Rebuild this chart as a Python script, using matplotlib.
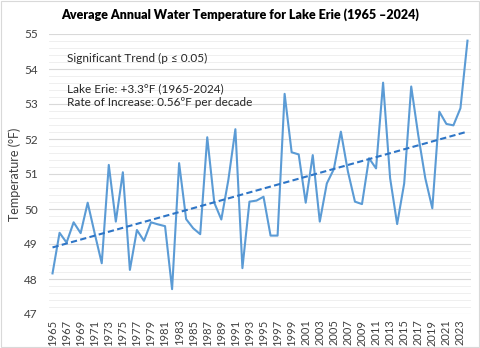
import numpy as np
import matplotlib
matplotlib.use("Agg")
import matplotlib.pyplot as plt
from matplotlib import patches
from matplotlib.ticker import MultipleLocator

plt.rcParams['font.family'] = ['Lato', 'DejaVu Sans']

# annual mean water temperature, Lake Erie (degF)
years = list(range(1965, 2025))
temps = [48.16, 49.32, 49.04, 49.62, 49.31, 50.18, 49.30, 48.45, 51.26, 49.64,
         51.05, 48.26, 49.40, 49.09, 49.62, 49.56, 49.51, 47.71, 51.31, 49.71,
         49.45, 49.28, 52.05, 50.18, 49.70, 50.83, 52.28, 48.31, 50.21, 50.24,
         50.35, 49.24, 49.24, 53.29, 51.62, 51.56, 50.18, 51.54, 49.64, 50.73,
         51.14, 52.21, 51.07, 50.21, 50.14, 51.45, 51.16, 53.61, 50.88, 49.57,
         50.73, 53.50, 52.11, 50.88, 50.02, 52.78, 52.43, 52.39, 52.88, 54.81]
tick_years = years[::2]

line_col = '#5b9bd5'
trend_col = '#2e75c6'

fig = plt.figure(figsize=(4.8, 3.48), dpi=100)
ax = fig.add_axes([49/480, 1-314/348, 422/480, 280/348])

x = np.array(years)
y = np.array(temps)
ax.plot(x, y, color=line_col, lw=1.5, zorder=3)

# linear trend
k, b = np.polyfit(x, y, 1)
ax.plot(x, k*x + b, color=trend_col, lw=1.5, ls=(0, (3, 1.6)), zorder=4)

ax.set_xlim(1964.5, 2024.5)
ax.set_ylim(47, 55)
ax.yaxis.set_major_locator(MultipleLocator(1))
ax.yaxis.set_minor_locator(MultipleLocator(0.2))
ax.set_xticks(tick_years)
ax.set_xticklabels([str(t) for t in tick_years], rotation=90, fontsize=8, color='#404040')
ax.tick_params(axis='y', labelsize=8.5, labelcolor='#404040', pad=8)
ax.tick_params(axis='both', which='both', length=0)
ax.tick_params(axis='x', pad=4)
ax.grid(True, which='major', axis='y', color='#d9d9d9', lw=0.8)
ax.grid(True, which='minor', axis='y', color='#ececec', lw=0.6)
ax.set_axisbelow(True)
for s in ax.spines.values():
    s.set_visible(False)

fig.text(15/480, 1-174/348, 'Temperature (°F)', rotation=90, ha='center', va='center',
         fontsize=9, color='#404040')

fig.text(0.5, 1-15/348, 'Average Annual Water Temperature for Lake Erie (1965 \u20132024)',
         ha='center', va='center', fontsize=9, fontweight='heavy', color='#000000')

fig.text(67/480, 1-58/348, 'Significant Trend (p \u2264 0.05)', fontsize=8.5, va='center', color='#262626')
fig.text(67/480, 1-89/348, 'Lake Erie: +3.3°F (1965-2024)', fontsize=8.5, va='center', color='#262626')
fig.text(67/480, 1-103/348, 'Rate of Increase: 0.56ºF per decade', fontsize=8.5, va='center', color='#262626')

fig.patches.append(patches.Rectangle((0.002, 0.003), 0.996, 0.994, transform=fig.transFigure,
                                     fill=False, edgecolor='#d9d9d9', lw=0.8))

fig.savefig('out.png', dpi=100)
